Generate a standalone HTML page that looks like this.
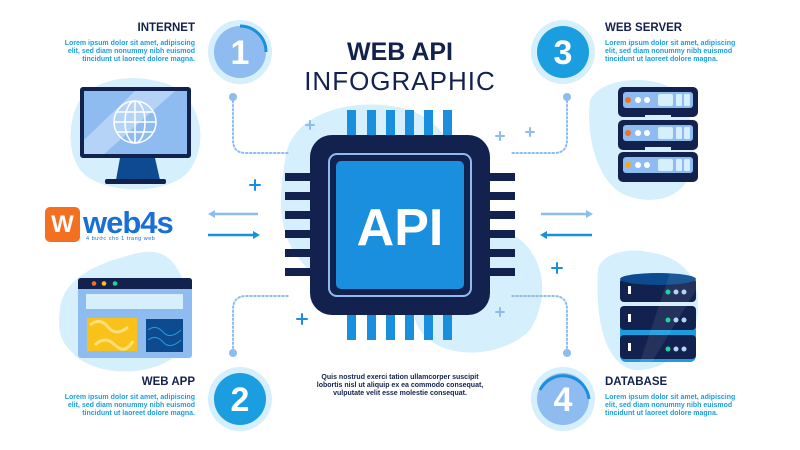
<!DOCTYPE html>
<html><head><meta charset="utf-8"><style>
html,body{margin:0;padding:0;background:#fff;}
svg{display:block;font-family:"Liberation Sans",sans-serif;}
</style></head><body>
<svg width="800" height="450" viewBox="0 0 800 450" xmlns="http://www.w3.org/2000/svg">
<rect width="800" height="450" fill="#fff"/>
<!-- blobs -->
<path d="M285,160 C290,110 360,95 410,110 C460,130 470,180 440,230 C410,300 330,300 300,260 C275,230 280,190 285,160Z" fill="#d5effc"/>
<path d="M500,230 C540,240 555,290 530,330 C500,360 440,360 420,330 C400,300 430,260 470,240Z" fill="#d5effc"/>
<path d="M75,110 C85,80 130,70 170,85 C200,100 210,140 190,170 C170,195 110,195 85,175 C68,160 68,130 75,110Z" fill="#d5effc"/>
<path d="M60,310 C62,280 95,265 120,258 C140,252 160,245 175,265 C195,295 195,340 170,360 C140,378 90,375 70,350 C58,338 58,325 60,310Z" fill="#d5effc"/>
<path d="M590,100 C600,80 640,75 665,85 C690,95 700,140 690,175 C680,200 650,205 625,195 C600,185 585,140 590,100Z" fill="#d5effc"/>
<path d="M598,270 C600,255 625,247 648,252 C680,256 700,275 698,310 C696,345 665,372 635,370 C605,365 595,320 598,270Z" fill="#d5effc"/>

<!-- Title -->
<text x="400" y="60" text-anchor="middle" font-size="25" font-weight="bold" fill="#13214f">WEB API</text>
<text x="400" y="90" text-anchor="middle" font-size="26" fill="#13214f" letter-spacing="1">INFOGRAPHIC</text>

<!-- number circles -->
<circle cx="240" cy="52" r="32" fill="#d5effc"/><circle cx="240" cy="52" r="26" fill="#8fbcf0"/><path d="M240,26 A26,26 0 0 1 266,52" stroke="#1a8fde" stroke-width="3" fill="none"/>
<text x="240" y="64" text-anchor="middle" font-size="34" font-weight="bold" fill="#fff">1</text>
<circle cx="563" cy="52" r="32" fill="#d5effc"/><circle cx="563" cy="52" r="26" fill="#1a9ee0"/>
<text x="563" y="64" text-anchor="middle" font-size="34" font-weight="bold" fill="#fff">3</text>
<circle cx="240" cy="399" r="32" fill="#d5effc"/><circle cx="240" cy="399" r="26" fill="#1a9ee0"/>
<text x="240" y="411" text-anchor="middle" font-size="34" font-weight="bold" fill="#fff">2</text>
<circle cx="563" cy="399" r="32" fill="#d5effc"/><circle cx="563" cy="399" r="26" fill="#8fbcf0"/><path d="M540,390 A26,26 0 0 1 589,399" stroke="#1a8fde" stroke-width="3" fill="none"/>
<text x="563" y="411" text-anchor="middle" font-size="34" font-weight="bold" fill="#fff">4</text>

<!-- labels -->
<g font-weight="bold">
<text x="195" y="31" text-anchor="end" font-size="11.5" fill="#13214f">INTERNET</text>
<text x="605" y="31" font-size="11.5" fill="#13214f">WEB SERVER</text>
<text x="195" y="185" text-anchor="end" font-size="11.5" fill="#13214f" transform="translate(0,200)">WEB APP</text>
<text x="605" y="385" font-size="11.5" fill="#13214f">DATABASE</text>
</g>
<g font-size="7" fill="#1a9ee0" font-weight="bold">
<text x="195" y="45" text-anchor="end">Lorem ipsum dolor sit amet, adipiscing</text>
<text x="195" y="53" text-anchor="end">elit, sed diam nonummy nibh euismod</text>
<text x="195" y="61" text-anchor="end">tincidunt ut laoreet dolore magna.</text>
<text x="605" y="45">Lorem ipsum dolor sit amet, adipiscing</text>
<text x="605" y="53">elit, sed diam nonummy nibh euismod</text>
<text x="605" y="61">tincidunt ut laoreet dolore magna.</text>
<text x="195" y="399" text-anchor="end">Lorem ipsum dolor sit amet, adipiscing</text>
<text x="195" y="407" text-anchor="end">elit, sed diam nonummy nibh euismod</text>
<text x="195" y="415" text-anchor="end">tincidunt ut laoreet dolore magna.</text>
<text x="605" y="399">Lorem ipsum dolor sit amet, adipiscing</text>
<text x="605" y="407">elit, sed diam nonummy nibh euismod</text>
<text x="605" y="415">tincidunt ut laoreet dolore magna.</text>
</g>
<g font-size="7" fill="#13214f" font-weight="bold" text-anchor="middle">
<text x="400" y="379">Quis nostrud exerci tation ullamcorper suscipit</text>
<text x="400" y="387">lobortis nisl ut aliquip ex ea commodo consequat,</text>
<text x="400" y="395">vulputate velit esse molestie consequat.</text>
</g>

<!-- dotted connectors -->
<g stroke="#8fbcf0" stroke-width="2" fill="none" stroke-dasharray="1.5 2.5" stroke-linecap="round">
<path d="M233,97 V140 Q233,153 246,153 H290"/>
<path d="M567,97 V140 Q567,153 554,153 H510"/>
<path d="M233,352 V310 Q233,296 246,296 H290"/>
<path d="M567,352 V310 Q567,296 554,296 H510"/>
</g>
<g fill="#8fbcf0"><circle cx="233" cy="97" r="4"/><circle cx="567" cy="97" r="4"/><circle cx="233" cy="353" r="4"/><circle cx="567" cy="353" r="4"/></g>

<!-- pluses -->
<g stroke-width="2" stroke-linecap="round">
<g stroke="#1a8fde"><path d="M255,180v10M250,185h10"/><path d="M557,263v10M552,268h10"/><path d="M302,314v10M297,319h10"/></g>
<g stroke="#8fbcf0"><path d="M310,121v8M306,125h8"/><path d="M500,132v8M496,136h8"/><path d="M500,308v8M496,312h8"/><path d="M530,128v8M526,132h8"/></g>
</g>

<!-- chip -->
<g fill="#1a8fde">
<rect x="347" y="110" width="9" height="28"/><rect x="367" y="110" width="9" height="28"/><rect x="386" y="110" width="9" height="28"/><rect x="405" y="110" width="9" height="28"/><rect x="424" y="110" width="9" height="28"/><rect x="443" y="110" width="9" height="28"/>
<rect x="347" y="312" width="9" height="28"/><rect x="367" y="312" width="9" height="28"/><rect x="386" y="312" width="9" height="28"/><rect x="405" y="312" width="9" height="28"/><rect x="424" y="312" width="9" height="28"/><rect x="443" y="312" width="9" height="28"/>
</g>
<g fill="#13214f">
<rect x="285" y="173" width="30" height="8"/><rect x="285" y="192" width="30" height="8"/><rect x="285" y="211" width="30" height="8"/><rect x="285" y="230" width="30" height="8"/><rect x="285" y="249" width="30" height="8"/><rect x="285" y="268" width="30" height="8"/>
<rect x="485" y="173" width="30" height="8"/><rect x="485" y="192" width="30" height="8"/><rect x="485" y="211" width="30" height="8"/><rect x="485" y="230" width="30" height="8"/><rect x="485" y="249" width="30" height="8"/><rect x="485" y="268" width="30" height="8"/>
<rect x="310" y="135" width="180" height="180" rx="22"/>
</g>
<rect x="329" y="154" width="142" height="142" rx="8" fill="none" stroke="#8fbcf0" stroke-width="2"/>
<rect x="336" y="161" width="128" height="128" rx="5" fill="#1a8fde"/>
<text x="400" y="245" text-anchor="middle" font-size="52" font-weight="bold" fill="#fff">API</text>

<!-- arrows -->
<g stroke-width="2.5" fill="none">
<path d="M258,214H212" stroke="#8fbcf0"/><path d="M208,235H254" stroke="#1a8fde"/>
<path d="M541,214H588" stroke="#8fbcf0"/><path d="M592,235H546" stroke="#1a8fde"/>
</g>
<path d="M208,214l7,-4v8z" fill="#8fbcf0"/><path d="M260,235l-7,-4v8z" fill="#1a8fde"/>
<path d="M593,214l-7,-4v8z" fill="#8fbcf0"/><path d="M540,235l7,-4v8z" fill="#1a8fde"/>

<!-- monitor -->
<rect x="80" y="87" width="111" height="71" rx="3" fill="#13214f"/>
<rect x="84" y="91" width="103" height="63" fill="#8fbcf0"/>
<path d="M84,140 L135,91 H175 L104,154 H84Z" fill="#b5d3f6"/>
<path d="M120,158 H155 L160,180 H116Z" fill="#0d4a8f"/>
<rect x="105" y="179" width="61" height="5" rx="2" fill="#13214f"/>
<g stroke="#fff" stroke-width="1.5" fill="none"><circle cx="135" cy="122" r="21"/><ellipse cx="135" cy="122" rx="10" ry="21"/><path d="M135,101V143M114,122H156M117,112H153M117,132H153"/></g>

<!-- web4s logo -->
<rect x="45" y="207" width="35" height="35" rx="5" fill="#f2701f"/>
<text x="62.5" y="232" text-anchor="middle" font-size="24" font-weight="bold" fill="#fff">W</text>
<text x="83" y="233" font-size="31" font-weight="bold" fill="#1a6fd6" letter-spacing="-1">web4s</text>
<text x="86" y="240" font-size="5.5" fill="#1a6fd6" letter-spacing="0.5">4 bước cho 1 trang web</text>

<!-- web app -->
<rect x="78" y="278" width="114" height="80" rx="3" fill="#8fbcf0"/>
<path d="M78,281 Q78,278 81,278 H189 Q192,278 192,281 V289 H78Z" fill="#13214f"/>
<circle cx="94" cy="283.5" r="2.3" fill="#f2701f"/><circle cx="104" cy="283.5" r="2.3" fill="#f9c21a"/><circle cx="115" cy="283.5" r="2.3" fill="#1fd38a"/>
<rect x="86" y="294" width="97" height="15" fill="#d5effc"/>
<rect x="87" y="318" width="50" height="33" fill="#f9c21a"/>
<path d="M90,325 q10,-8 18,2 t20,0 M95,345 q10,-10 20,0 t18,-4" stroke="#fde07a" stroke-width="3" fill="none"/>
<rect x="146" y="319" width="37" height="33" fill="#0d4a8f"/>
<path d="M148,330 q8,-6 15,2 t18,-2 M148,340 q8,-6 15,2 t18,-2" stroke="#1a9ee0" stroke-width="1" fill="none"/>

<!-- server -->
<g>
<rect x="618" y="87" width="80" height="30" rx="5" fill="#13214f"/>
<rect x="623" y="92" width="70" height="16" rx="3" fill="#8fbcf0"/>
<rect x="618" y="120" width="80" height="30" rx="5" fill="#13214f"/>
<rect x="623" y="125" width="70" height="16" rx="3" fill="#8fbcf0"/>
<rect x="618" y="152" width="80" height="30" rx="5" fill="#13214f"/>
<rect x="623" y="157" width="70" height="16" rx="3" fill="#8fbcf0"/>
<rect x="645" y="115" width="26" height="4" fill="#d5effc"/><rect x="645" y="147" width="26" height="4" fill="#d5effc"/>
<g fill="#fff"><circle cx="638" cy="100" r="3"/><circle cx="647" cy="100" r="3"/><circle cx="638" cy="133" r="3"/><circle cx="647" cy="133" r="3"/><circle cx="638" cy="165" r="3"/><circle cx="647" cy="165" r="3"/></g>
<g fill="#f2701f"><circle cx="628" cy="100" r="3"/><circle cx="628" cy="133" r="3"/></g><circle cx="628" cy="165" r="3" fill="#f9a51a"/>
<g fill="#d5effc"><rect x="658" y="94" width="15" height="12" rx="2"/><rect x="676" y="94" width="6" height="12" rx="1"/><rect x="684" y="94" width="6" height="12" rx="1"/>
<rect x="658" y="127" width="15" height="12" rx="2"/><rect x="676" y="127" width="6" height="12" rx="1"/><rect x="684" y="127" width="6" height="12" rx="1"/>
<rect x="658" y="159" width="15" height="12" rx="2"/><rect x="676" y="159" width="6" height="12" rx="1"/><rect x="684" y="159" width="6" height="12" rx="1"/></g>
</g>

<!-- database -->
<g>
<rect x="620" y="307" width="76" height="55" rx="6" fill="#1a9ee0"/>
<rect x="620" y="278" width="76" height="24" rx="4" fill="#13214f"/>
<rect x="620" y="306" width="76" height="24" rx="4" fill="#13214f"/>
<rect x="620" y="335" width="76" height="24" rx="4" fill="#13214f"/>
<ellipse cx="658" cy="279" rx="38" ry="6" fill="#0d4a8f"/>
<path d="M670,273 L696,275 V290 L652,362 H640Z" fill="#fff" opacity="0.08"/>
<g fill="#fff"><rect x="628" y="286" width="3" height="8"/><rect x="628" y="314" width="3" height="8"/><rect x="628" y="343" width="3" height="8"/></g>
<g fill="#1fd3a0"><circle cx="668" cy="292" r="2.5"/><circle cx="668" cy="320" r="2.5"/><circle cx="668" cy="349" r="2.5"/></g>
<g fill="#b5d3f6"><circle cx="676" cy="292" r="2.5"/><circle cx="684" cy="292" r="2.5"/><circle cx="676" cy="320" r="2.5"/><circle cx="684" cy="320" r="2.5"/><circle cx="676" cy="349" r="2.5"/><circle cx="684" cy="349" r="2.5"/></g>
</g>
</svg>
</body></html>
